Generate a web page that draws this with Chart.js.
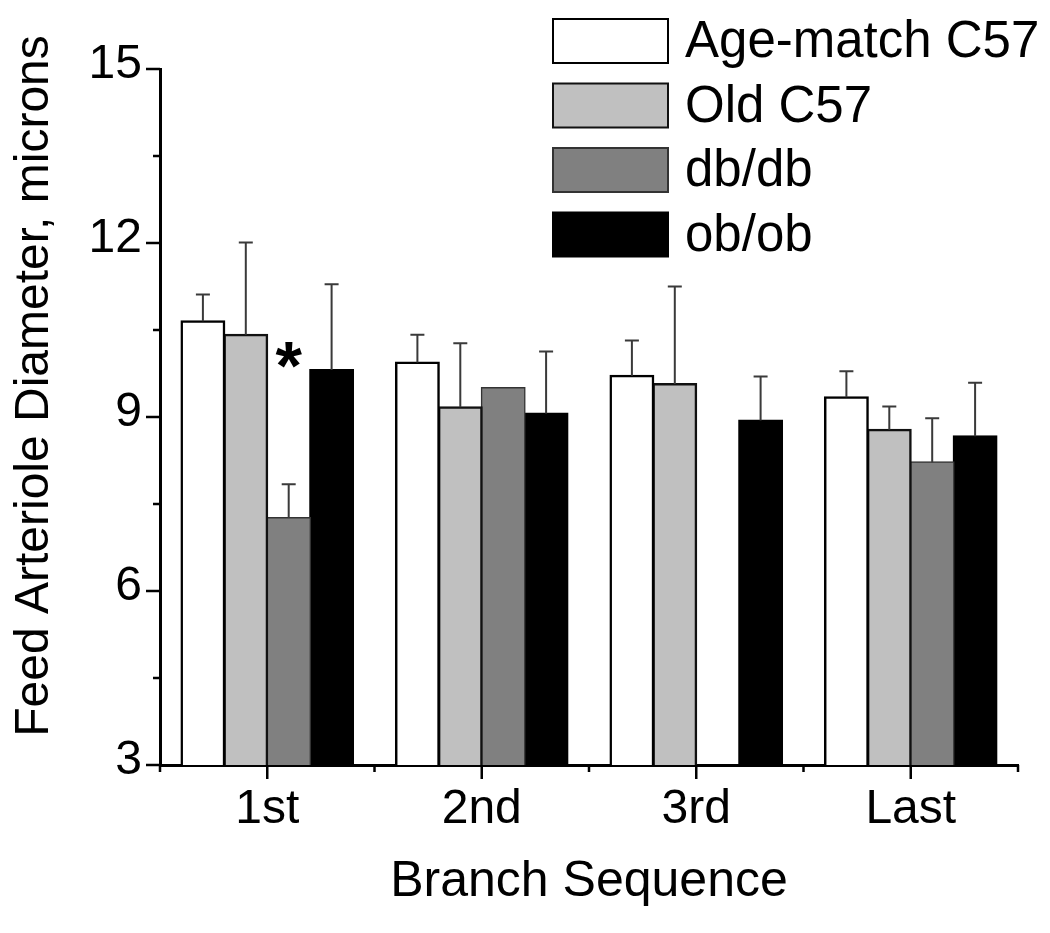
<!DOCTYPE html>
<html><head><meta charset="utf-8">
<script src="https://cdn.jsdelivr.net/npm/chart.js@4.4.1/dist/chart.umd.min.js"></script>
<style>html,body{margin:0;padding:0;background:#fff}#wrap{width:1050px;height:933px}canvas{display:block}</style>
</head><body><div id="wrap"><canvas id="c" width="1050" height="933"></canvas></div>
<script>
const categories = ['1st', '2nd', '3rd', 'Last'];
const seriesNames = ['Age-match C57', 'Old C57', 'db/db', 'ob/ob'];
const ageMatch = [10.65, 9.94, 9.71, 9.34];
const oldC57 = [10.42, 9.17, 9.57, 8.78];
const dbdb = [7.26, 9.50, null, 8.22];
const obob = [9.81, 9.06, 8.94, 8.67];
const ageMatchErr = [0.46, 0.48, 0.61, 0.45];
const oldC57Err = [1.59, 1.10, 1.68, 0.40];
const dbdbErr = [0.58, 0, null, 0.76];
const obobErr = [1.48, 1.07, 0.76, 0.92];
const yTicks = [3, 6, 9, 12, 15];
const yMinorTicks = [4.5, 7.5, 10.5, 13.5];
const significance = [{ series: 2, category: 0, y: 9.72, text: '*' }];
const yTitle = 'Feed Arteriole Diameter, microns';
const xTitle = 'Branch Sequence';

const FONT = "'Liberation Sans', Arial, Helvetica, sans-serif";
const fills = ['#ffffff', '#c0c0c0', '#808080', '#000000'];
const borders = ['#000000', '#111111', '#333333', '#000000'];
const values = [ageMatch, oldC57, dbdb, obob];
const errs = [ageMatchErr, oldC57Err, dbdbErr, obobErr];

const datasets = seriesNames.map((name, i) => ({
  label: name,
  data: values[i],
  errors: errs[i],
  backgroundColor: fills[i],
  borderColor: borders[i],
  borderWidth: i === 2 ? 1.5 : 2.5,
  inflateAmount: 1,
  barPercentage: 1.0,
  categoryPercentage: 0.8
}));

const extras = {
  id: 'extras',
  afterDatasetsDraw(chart) {
    const ctx = chart.ctx, ys = chart.scales.y;
    ctx.save();
    ctx.strokeStyle = '#3a3a3a';
    ctx.lineWidth = 2;
    chart.data.datasets.forEach((ds, i) => {
      const meta = chart.getDatasetMeta(i);
      ds.data.forEach((v, j) => {
        const e = ds.errors[j];
        if (v == null || !e) return;
        const el = meta.data[j];
        const y0 = ys.getPixelForValue(v), y1 = ys.getPixelForValue(v + e);
        ctx.beginPath();
        ctx.moveTo(el.x, y0); ctx.lineTo(el.x, y1);
        ctx.moveTo(el.x - 7, y1); ctx.lineTo(el.x + 7, y1);
        ctx.stroke();
      });
    });
    ctx.restore();
  },
  afterDraw(chart) {
    const ctx = chart.ctx, ys = chart.scales.y, xs = chart.scales.x, ca = chart.chartArea;
    ctx.save();
    // ticks
    ctx.strokeStyle = '#000'; ctx.lineWidth = 2.5;
    ctx.beginPath();
    yTicks.forEach(t => { const y = ys.getPixelForValue(t); ctx.moveTo(ca.left, y); ctx.lineTo(ca.left - 14, y); });
    yMinorTicks.forEach(t => { const y = ys.getPixelForValue(t); ctx.moveTo(ca.left, y); ctx.lineTo(ca.left - 7, y); });
    categories.forEach((c, i) => { const x = xs.getPixelForValue(i); ctx.moveTo(x, ca.bottom); ctx.lineTo(x, ca.bottom + 14); });
    for (let i = 0; i <= categories.length; i++) {
      const x = xs.getPixelForValue(i - 0.5);
      ctx.moveTo(x, ca.bottom); ctx.lineTo(x, ca.bottom + 7);
    }
    ctx.stroke();
    // y title
    ctx.fillStyle = '#000';
    ctx.font = '48px ' + FONT;
    ctx.textAlign = 'center'; ctx.textBaseline = 'middle';
    ctx.save();
    ctx.translate(35, 386); ctx.rotate(-Math.PI / 2);
    ctx.fillText(yTitle, 0, 0);
    ctx.restore();
    // significance marks
    significance.forEach(s => {
      const el = chart.getDatasetMeta(s.series).data[s.category];
      ctx.font = 'bold 68px ' + FONT;
      ctx.textAlign = 'center'; ctx.textBaseline = 'alphabetic';
      ctx.fillText(s.text, el.x, ys.getPixelForValue(s.y) + 14);
    });
    // legend
    const bx = 553, bw = 115, bh = 44, top0 = 19, step = 64.5;
    chart.data.datasets.forEach((ds, i) => {
      const y = top0 + i * step;
      ctx.fillStyle = ds.backgroundColor;
      ctx.fillRect(bx, y, bw, bh);
      ctx.strokeStyle = ds.borderColor; ctx.lineWidth = 2;
      ctx.strokeRect(bx, y, bw, bh);
      ctx.fillStyle = '#000';
      ctx.font = '51px ' + FONT;
      ctx.textAlign = 'left'; ctx.textBaseline = 'middle';
      ctx.fillText(ds.label, 685, y + bh / 2 + 2);
    });
    ctx.restore();
  }
};

new Chart(document.getElementById('c'), {
  type: 'bar',
  data: { labels: categories, datasets },
  options: {
    responsive: false,
    devicePixelRatio: 1,
    animation: false,
    layout: { padding: { top: 69, right: 32, left: 0, bottom: 0 } },
    plugins: { legend: { display: false }, tooltip: { enabled: false } },
    scales: {
      x: {
        grid: { display: true, drawOnChartArea: false, drawTicks: false },
        border: { display: true, color: '#000', width: 3 },
        ticks: { color: '#000', font: { family: FONT, size: 48 }, padding: 16, maxRotation: 0 },
        title: { display: true, text: xTitle, color: '#000', font: { family: FONT, size: 50 }, padding: { top: 0, bottom: 21 } },
        afterFit(s) { s.height = 168; }
      },
      y: {
        min: 3, max: 15,
        grid: { display: true, drawOnChartArea: false, drawTicks: false },
        border: { display: true, color: '#000', width: 3 },
        ticks: { color: '#000', font: { family: FONT, size: 48 }, padding: 18, stepSize: 3, labelOffset: -4 },
        afterFit(s) { s.width = 160; }
      }
    }
  },
  plugins: [extras]
});
</script>
</body></html>
